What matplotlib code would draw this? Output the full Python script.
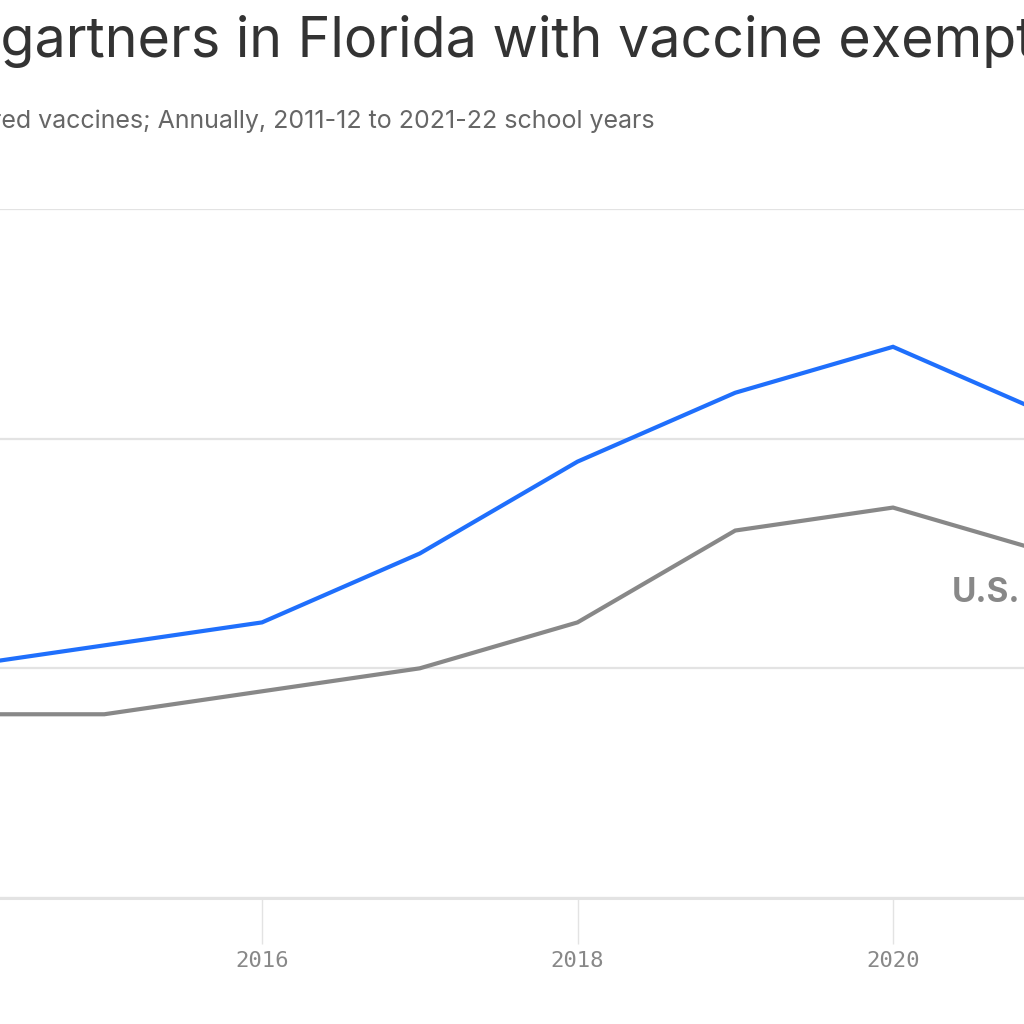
import matplotlib
matplotlib.use("Agg")
import matplotlib.pyplot as plt

# school year start; values in percent of kindergartners with exemptions
years = [2014, 2015, 2016, 2017, 2018, 2019, 2020, 2021]
florida = [2.0, 2.1, 2.2, 2.5, 2.9, 3.2, 3.4, 3.1]
us = [1.8, 1.8, 1.9, 2.0, 2.2, 2.6, 2.7, 2.5]
y_ticks = [1, 2, 3, 4]
x_ticks = [2016, 2018, 2020]

TITLE = "Share of kindergartners in Florida with vaccine exemptions"
TITLE_CUT = "Share of kinder"
SUBTITLE = ("Kindergartners with exemptions from one or more required vaccines; "
            "Annually, 2011-12 to 2021-22 school years")

BLUE = "#1f6ffc"
GRAY = "#888888"
GRID = "#e3e3e3"
W = H = 1024

fig = plt.figure(figsize=(10.24, 10.24), dpi=100)
fig.patch.set_facecolor("white")

# axes spans the full width; crop of a wider chart
ax = fig.add_axes([0, 1 - 898 / H, 1, (898 - 209) / H])
ax.set_xlim(2016 - 262 / 157.75, 2016 + 762 / 157.75)
ax.set_ylim(1, 4)

ax.plot(years, us, color=GRAY, lw=3.0, solid_joinstyle="miter", clip_on=False, zorder=3)
ax.plot(years, florida, color=BLUE, lw=3.0, solid_joinstyle="miter", clip_on=False, zorder=4)

ax.set_yticks(y_ticks)
ax.yaxis.grid(True, color=GRID, lw=1.6)
ax.tick_params(axis="y", length=0, labelleft=False)
ax.set_xticks(x_ticks)
ax.set_xticklabels([str(x) for x in x_ticks], family="DejaVu Sans Mono",
                   fontsize=16, color=GRAY)
ax.tick_params(axis="x", length=33, width=1, color=GRID, pad=5)
for side in ["top", "right", "left"]:
    ax.spines[side].set_visible(False)
ax.spines["bottom"].set_color(GRID)
ax.spines["bottom"].set_linewidth(2.2)
ax.set_axisbelow(True)

ax.text(2020.37, 2.33, "U.S.", color=GRAY, fontsize=24, fontweight="bold",
        family="Inter", ha="left", va="center")

# title: position so that the visible part starts at the left edge
renderer = fig.canvas.get_renderer()
probe = fig.text(0, 0, TITLE_CUT, fontsize=40, family="Inter")
cut_w = probe.get_window_extent(renderer).width
probe.remove()
fig.text(-cut_w / W, 1 - 57 / H, TITLE, fontsize=40, family="Inter",
         color="#333333", ha="left", va="baseline")

fig.text(655 / W, 1 - 128 / H, SUBTITLE, fontsize=18, family="Inter",
         color="#666666", ha="right", va="baseline")

fig.savefig("out.png", dpi=100, facecolor="white")
